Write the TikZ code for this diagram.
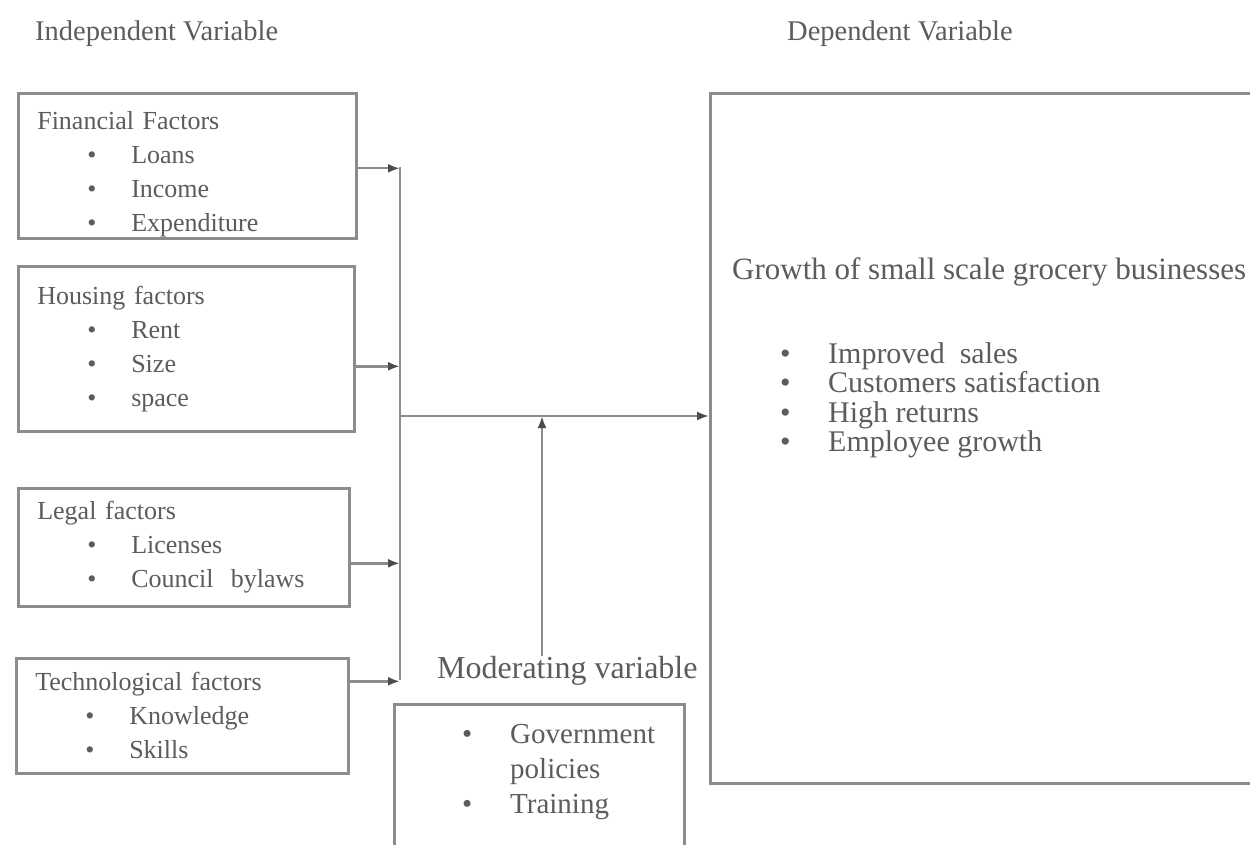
\documentclass[tikz,border=0pt]{standalone}
\usepackage{fontspec}
\setmainfont{Liberation Serif}
\usetikzlibrary{arrows.meta,calc}

\definecolor{ink}{gray}{0.36}
\definecolor{rule}{gray}{0.55}
\definecolor{tip}{gray}{0.3}

% bullet line inside a factor box
\newcommand{\bul}[1]{\hspace*{50pt}\makebox[44pt][l]{\textbullet}#1}

\tikzset{
  factor/.style={draw=rule, line width=2.6pt, align=left, anchor=north west,
    inner xsep=19pt, inner ysep=4pt, text=ink, font=\fontsize{26}{34}\selectfont},
  outcome/.style={draw=rule, line width=2.6pt, anchor=north west},
  heading/.style={text=ink, font=\fontsize{28.5}{34}\selectfont, anchor=base west, inner sep=0pt},
  result/.style={text=ink, font=\fontsize{30}{36}\selectfont, anchor=base west, inner sep=0pt},
  link/.style={draw=rule, line width=2.4pt},
  arr/.style={link, -{Latex[length=12pt,width=9pt,color=tip]}},
}

\begin{document}
\begin{tikzpicture}[x=1pt,y=-1pt]
\useasboundingbox[fill=white] (0,0) rectangle (1250,845);

% headings
\node[heading] (indep) at (35,41) {Independent Variable};
\node[heading] (dep) at (787,41) {Dependent Variable};

% independent variables
\node[factor, inner ysep=0pt, text width=300pt, minimum height=145pt] (fin) at (17,92)
  {\rule{0pt}{34pt}Financial Factors\\ \bul{Loans}\\ \bul{Income}\\ \bul{Expenditure}};
\node[factor, text width=298pt, minimum height=165pt] (hous) at (17,265)
  {Housing factors\\ \bul{Rent}\\ \bul{Size}\\ \bul{space}};
\node[factor, text width=293pt, minimum height=118pt] (legal) at (17,487)
  {Legal factors\\ \bul{Licenses}\\ \bul{Council~ bylaws}};
\node[factor, text width=294pt, minimum height=115pt] (tech) at (15,657)
  {Technological factors\\ \bul{Knowledge}\\ \bul{Skills}};

% dependent variable
\node[outcome, minimum width=560pt, minimum height=690pt] (outbox) at (709,92) {};
\node[result, font=\fontsize{31}{36}\selectfont] (growth) at (732,279) {Growth of small scale grocery businesses};
\foreach \txt [count=\i] in {Improved~ sales, Customers satisfaction, High returns, Employee growth}
  \node[result] (gain\i) at (780,333.5+29.5*\i) {\makebox[48pt][l]{\textbullet}\txt};

% moderating variable
\node[heading, font=\fontsize{32}{38}\selectfont] (modlab) at (437,678) {Moderating variable};
\node[outcome, minimum width=290pt, minimum height=170pt] (modbox) at (393,703) {};
\node[anchor=north west, align=left, text=ink, inner sep=0pt,
  font=\fontsize{29}{35}\selectfont] (modtext) at (462,724)
  {\makebox[48pt][l]{\textbullet}Government\\ \hspace*{48pt}policies\\ \makebox[48pt][l]{\textbullet}Training};

% connectors
\coordinate (bustop) at (400,167);
\coordinate (busbot) at (400,680);
\coordinate (hub) at (400,416);
\coordinate (modjoin) at (542,416);
\draw[link] (bustop) -- (busbot);
\draw[arr] ([yshift=-2.5pt]fin.east) -- ([yshift=-2.5pt]fin.east -| bustop);
\draw[arr] ([yshift=-17.5pt]hous.east) -- ([yshift=-17.5pt]hous.east -| bustop);
\draw[arr] ([yshift=-16pt]legal.east) -- ([yshift=-16pt]legal.east -| bustop);
\draw[arr] ([yshift=34.5pt]tech.east) -- ([yshift=34.5pt]tech.east -| bustop);
\draw[arr] (hub) -- (hub -| outbox.west);
\draw[arr] (modlab.north -| modjoin) -- (modjoin);
\end{tikzpicture}
\end{document}
